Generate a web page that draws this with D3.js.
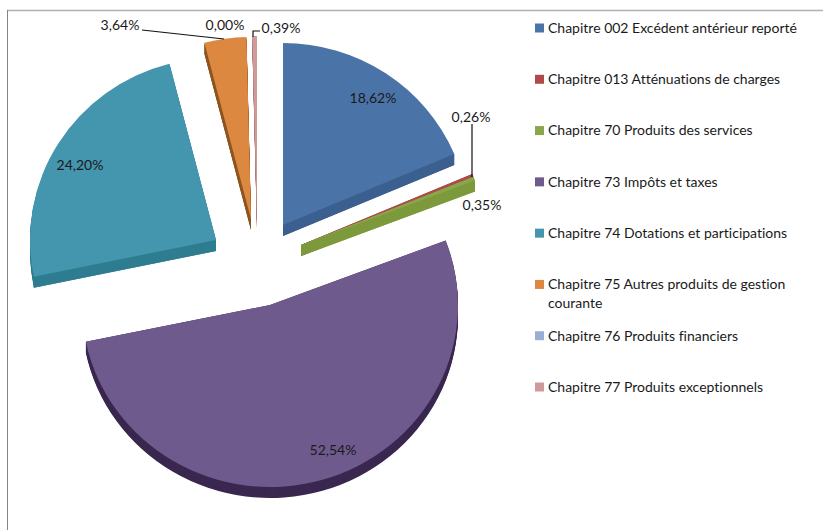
<!DOCTYPE html>
<html>
<head>
<meta charset="utf-8">
<script src="https://cdn.jsdelivr.net/npm/d3@7"></script>
<style>
    html, body { margin: 0; padding: 0; background: #fff; }
    svg { display: block; }
    text { font-family: Lato, "Open Sans", sans-serif; font-size: 14px; font-variant-ligatures: none; fill: #1a1a1a; }
</style>
</head>
<body>
<div id="chart"></div>
<script>
const categories = [
    "Chapitre 002 Excédent antérieur reporté",
    "Chapitre 013 Atténuations de charges",
    "Chapitre 70 Produits des services",
    "Chapitre 73 Impôts et taxes",
    "Chapitre 74 Dotations et participations",
    "Chapitre 75 Autres produits de gestion courante",
    "Chapitre 76 Produits financiers",
    "Chapitre 77 Produits exceptionnels"
];
const values = [18.62, 0.26, 0.35, 52.54, 24.20, 3.64, 0.00, 0.39];

const topColors = ["#4a74a8", "#b04a48", "#8aa64a", "#6f5a8d", "#4495ae", "#dd8840", "#9aaed4", "#d09a9a"];
const sideColors = ["#3b6090", "#8c3836", "#7c9a3c", "#3a2850", "#2e7c90", "#8c5520", "#7a8fb4", "#a87878"];

// where each exploded slice has its point, the pie itself is only angles
const sliceX = [283, 301, 301, 270, 216, 251, 0, 257];
const sliceY = [225, 245, 245, 305, 240, 219, 0, 218];
const sliceRadius = [186, 186, 186, 188, 186, 186, 186, 186];

const labelX = [373, 471, 482, 333, 80, 120, 225, 281];
const labelY = [98, 117, 205, 450, 165, 25, 25, 28];

const leaders = [
    null,
    [[472, 124], [472, 177]],
    null,
    null,
    null,
    [[142, 30], [224, 39]],
    null,
    [[253, 37], [253, 31], [260, 31]]
];

const width = 823;
const height = 530;
const radiusY = 182;
const depth = 11;

const svg = d3.select("#chart").append("svg")
    .attr("width", width)
    .attr("height", height);

// frame of the pasted chart, only top and left survive the crop
svg.append("path")
    .attr("d", d3.line()([[7, 10.5], [width, 10.5]]))
    .attr("fill", "none")
    .attr("stroke", "#b0b0b0")
    .attr("stroke-width", 1.5);

svg.append("path")
    .attr("d", d3.line()([[7.5, 10], [7.5, height]]))
    .attr("fill", "none")
    .attr("stroke", "#858585")
    .attr("stroke-width", 1);

const pie = d3.pie().sort(null).value(d => d);
const slices = pie(values);

function sliceTransform(i, drop) {
    return `translate(${sliceX[i]},${sliceY[i] + drop}) scale(1,${radiusY / sliceRadius[i]})`;
}

const pieGroup = svg.append("g");

slices.forEach((slice, i) => {
    if (slice.value === 0) return;

    const arc = d3.arc().innerRadius(0).outerRadius(sliceRadius[i]);
    const g = pieGroup.append("g");

    // the thickness is the same wedge repeated downwards
    d3.range(depth, 0, -1).forEach(drop => {
        g.append("path")
            .attr("d", arc(slice))
            .attr("transform", sliceTransform(i, drop))
            .attr("fill", sideColors[i]);
    });

    // cut faces as solid bands, thin wedges fade out near the point otherwise
    [slice.startAngle, slice.endAngle].forEach(angle => {
        const edgeX = sliceX[i] + sliceRadius[i] * Math.sin(angle);
        const edgeY = sliceY[i] - radiusY * Math.cos(angle);
        g.append("path")
            .attr("d", d3.line()([
                [sliceX[i], sliceY[i]],
                [edgeX, edgeY],
                [edgeX, edgeY + depth],
                [sliceX[i], sliceY[i] + depth]
            ]) + "Z")
            .attr("fill", sideColors[i]);
    });

    g.append("path")
        .attr("d", arc(slice))
        .attr("transform", sliceTransform(i, 0))
        .attr("fill", topColors[i]);
});

const percent = d3.formatLocale({ decimal: ",", thousands: " ", grouping: [3], currency: ["", " €"] }).format(".2f");

leaders.forEach(points => {
    if (!points) return;
    svg.append("path")
        .attr("d", d3.line()(points))
        .attr("fill", "none")
        .attr("stroke", "#111")
        .attr("stroke-width", 1.2);
});

svg.selectAll(".value-label")
    .data(values)
    .enter().append("text")
    .attr("class", "value-label")
    .attr("x", (d, i) => labelX[i])
    .attr("y", (d, i) => labelY[i])
    .attr("dy", "0.35em")
    .attr("text-anchor", "middle")
    .text(d => `${percent(d)}%`);

const legendY = d3.scalePoint()
    .domain(categories)
    .range([28, 387]);

const legend = svg.selectAll(".legend")
    .data(categories)
    .enter().append("g")
    .attr("class", "legend")
    .attr("transform", d => `translate(535,${legendY(d)})`);

legend.append("rect")
    .attr("x", 0)
    .attr("y", -4.5)
    .attr("width", 9)
    .attr("height", 9)
    .attr("fill", (d, i) => topColors[i]);

// only the long chapter 75 label wraps onto a second line
legend.append("text")
    .attr("x", 13)
    .attr("dy", "0.35em")
    .each(function (d) {
        const text = d3.select(this);
        const cut = d.indexOf(" courante");
        if (cut < 0) {
            text.text(d);
            return;
        }
        text.append("tspan").text(d.slice(0, cut));
        text.append("tspan").attr("x", 13).attr("dy", "1.35em").text(d.slice(cut + 1));
    });
</script>
</body>
</html>
